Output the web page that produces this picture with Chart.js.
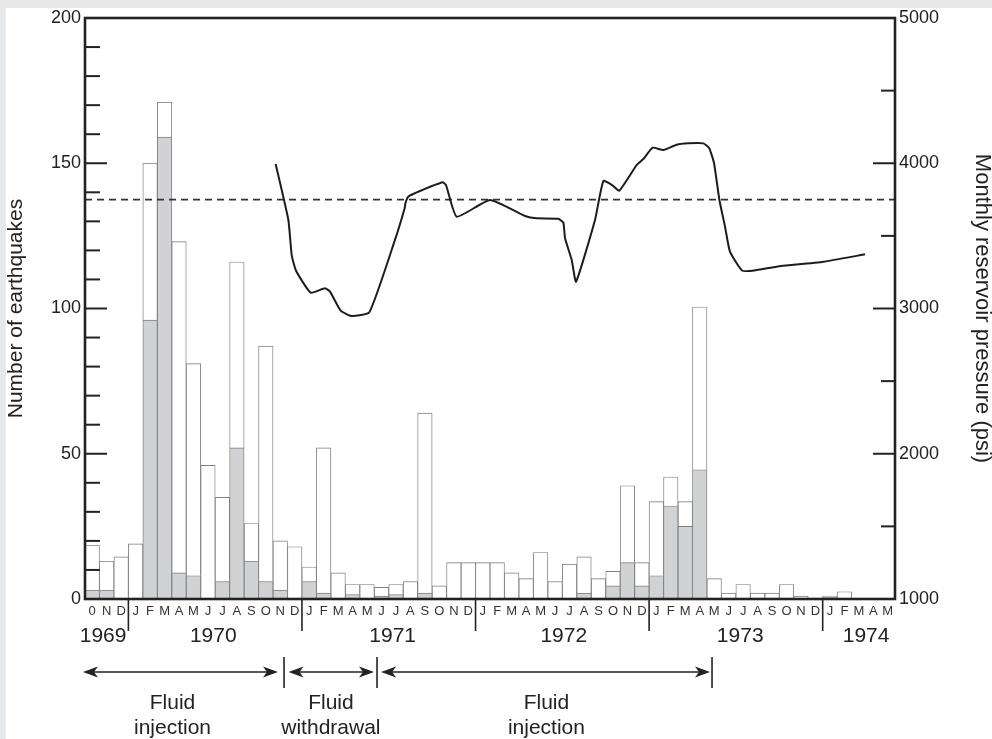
<!DOCTYPE html>
<html><head><meta charset="utf-8">
<script src="https://cdn.jsdelivr.net/npm/chart.js@4.4.1/dist/chart.umd.min.js"></script>
<style>html,body{margin:0;padding:0;background:#e7e8ea;}canvas{display:block;}</style>
</head><body>
<canvas id="c" width="992" height="739"></canvas>
<script>
// ---- data ----
const monthLabels = ['0','N','D',
  'J','F','M','A','M','J','J','A','S','O','N','D',
  'J','F','M','A','M','J','J','A','S','O','N','D',
  'J','F','M','A','M','J','J','A','S','O','N','D',
  'J','F','M','A','M','J','J','A','S','O','N','D',
  'J','F','M','A','M'];
const totalQuakes = [18.5,13,14.5,
  19,150,171,123,81,46,35,116,26,87,20,18,
  11,52,9,5,5,4,5,6,64,4.5,12.5,12.5,
  12.5,12.5,9,7,16,6,12,14.5,7,9.5,39,12.5,
  33.5,42,33.5,100.5,7,2,5,2,2,5,1,0.3,
  1,2.5,0,0,0];
const shadedQuakes = [3,3,0,
  0,96,159,9,8,0,6,52,13,6,3,0,
  6,2,0,1.5,0,1,1.5,0,2,0,0,0,
  0,0,0,0,0,0,0,2,0,4.5,12.5,4.5,
  8,32,25,44.5,0,0,0,0,0,0,0,0,
  0.5,0,0,0,0];
const yearLabels = ['1969','1970','1971','1972','1973','1974'];
const yearLabelMonth = [1.25,8.87,21.27,33.1,45.3,54.0];
const pressureMonth = [13.18,14.06,14.29,14.59,15.6,16.59,16.94,17.68,18.44,19.66,21.43,22.1,22.15,22.35,23.16,24.73,24.96,25.7,28.0,30.42,31.23,32.72,33.07,33.19,33.65,33.95,35.26,35.84,36.53,36.94,38.14,38.6,39.25,39.98,40.86,41.71,42.75,43.16,43.49,43.86,44.25,44.59,45.45,46.44,47.82,51.05,53.93];
const pressurePsi = [3995,3609,3368,3260,3109,3139,3116,2985,2948,2974,3472,3690,3725,3770,3809,3869,3850,3632,3747,3637,3621,3618,3591,3483,3334,3185,3609,3878,3843,3811,3988,4029,4107,4091,4126,4137,4137,4103,4000,3747,3563,3391,3260,3265,3288,3322,3373];
const thresholdPsi = 3750;
const phaseNames = [['Fluid','injection'],['Fluid','withdrawal'],['Fluid','injection']];
const phaseStart = [-0.14,14.07,20.47];
const phaseEnd = [13.34,19.98,43.21];
const phaseMark = [13.76,20.19,43.35];
const phaseTextMonth = [6.05,17.0,31.9];

// ---- chart ----
const FONT = '"Liberation Sans", Arial, Helvetica, sans-serif';
const whiteQuakes = totalQuakes.map((t,i)=>t - shadedQuakes[i]);
const nz = v => v > 0 ? v : null;

const bgPlugin = {
  id:'bg',
  beforeDraw(chart){
    const c = chart.ctx;
    c.save();
    c.fillStyle = '#e7e8ea'; c.fillRect(0,0,chart.width,chart.height);
    c.fillStyle = '#ffffff'; c.fillRect(6,8,chart.width-6,chart.height-8);
    c.restore();
  }
};

function arrowHead(c, x, y, dir){
  const L = 15, H = 5.5, N = 4;
  c.beginPath();
  c.moveTo(x, y);
  c.lineTo(x - dir*L, y - H);
  c.lineTo(x - dir*(L-N), y);
  c.lineTo(x - dir*L, y + H);
  c.closePath();
  c.fill();
}

const framePlugin = {
  id:'frame',
  afterDraw(chart){
    const c = chart.ctx, a = chart.chartArea;
    const ys = chart.scales.y, y2 = chart.scales.y2, xs = chart.scales.x2;
    c.save();
    c.strokeStyle = '#222'; c.fillStyle = '#222';
    c.lineWidth = 2;
    ys.ticks.forEach(t=>{
      if (t.value <= ys.min || t.value >= ys.max) return;
      const py = ys.getPixelForValue(t.value);
      const len = t.value % 50 === 0 ? 22 : 15;
      c.beginPath(); c.moveTo(a.left, py); c.lineTo(a.left+len, py); c.stroke();
    });
    y2.ticks.forEach(t=>{
      if (t.value <= y2.min || t.value >= y2.max) return;
      const py = y2.getPixelForValue(t.value);
      const len = t.value % 1000 === 0 ? 22 : 14;
      c.beginPath(); c.moveTo(a.right, py); c.lineTo(a.right-len, py); c.stroke();
    });
    c.lineWidth = 2.6;
    c.strokeRect(a.left, a.top, a.right-a.left, a.bottom-a.top);
    c.lineWidth = 1.6;
    monthLabels.forEach((l,i)=>{
      if (i>0 && l==='J' && monthLabels[i-1]==='D'){
        const px = xs.getPixelForValue(i);
        c.beginPath(); c.moveTo(px, a.bottom); c.lineTo(px, a.bottom+32); c.stroke();
      }
    });
    c.font = '21px ' + FONT;
    c.textAlign = 'center'; c.textBaseline = 'middle';
    yearLabels.forEach((t,i)=>{
      c.fillText(t, xs.getPixelForValue(yearLabelMonth[i]), a.bottom + 37);
    });
    const ay = a.bottom + 73;
    c.lineWidth = 1.6;
    phaseNames.forEach((nm,i)=>{
      const x1 = xs.getPixelForValue(phaseStart[i]);
      const x2 = xs.getPixelForValue(phaseEnd[i]);
      c.beginPath(); c.moveTo(x1+6, ay); c.lineTo(x2-6, ay); c.stroke();
      arrowHead(c, x1, ay, -1);
      arrowHead(c, x2, ay, 1);
      const mx = xs.getPixelForValue(phaseMark[i]);
      c.beginPath(); c.moveTo(mx, ay-15); c.lineTo(mx, ay+16); c.stroke();
      const tx = xs.getPixelForValue(phaseTextMonth[i]);
      c.fillText(nm[0], tx, a.bottom + 104);
      c.fillText(nm[1], tx, a.bottom + 129);
    });
    c.restore();
  }
};

new Chart(document.getElementById('c'), {
  type:'bar',
  data:{
    labels: monthLabels,
    datasets:[
      { type:'line', label:'Monthly reservoir pressure', order:0,
        data: pressureMonth.map((m,i)=>({x:m, y:pressurePsi[i]})),
        xAxisID:'x2', yAxisID:'y2', borderColor:'#1c1c1c', borderWidth:2,
        pointRadius:0, tension:0.15, fill:false },
      { type:'line', label:'Threshold', order:0,
        data:[{x:0,y:thresholdPsi},{x:56,y:thresholdPsi}],
        xAxisID:'x2', yAxisID:'y2', borderColor:'#333', borderWidth:1.8,
        borderDash:[7,5], pointRadius:0, fill:false },
      { label:'Shaded', order:1, stack:'q', grouped:false, data: shadedQuakes.map(nz),
        xAxisID:'x', yAxisID:'y',
        backgroundColor:'#d1d2d4', borderColor:'#7d7d7d', borderWidth:0.9,
        barPercentage:1, categoryPercentage:1 },
      { label:'Total', order:1, stack:'q', grouped:false, data: whiteQuakes.map(nz),
        xAxisID:'x', yAxisID:'y',
        backgroundColor:'#ffffff', borderColor:'#7d7d7d', borderWidth:0.9,
        barPercentage:1, categoryPercentage:1 }
    ]
  },
  options:{
    responsive:false, animation:false, devicePixelRatio:1,
    layout:{ padding:{ top:18, left:0, right:0, bottom:0 } },
    plugins:{ legend:{display:false}, tooltip:{enabled:false} },
    scales:{
      x:{ type:'category', position:'bottom', stacked:true, offset:true,
          grid:{display:false, drawTicks:false}, border:{display:false},
          ticks:{ autoSkip:false, maxRotation:0, minRotation:0, padding:5,
                  color:'#333', font:{family:FONT, size:13} },
          afterFit(s){ s.height = 140; } },
      x2:{ type:'linear', min:0, max:56, offset:false, display:false,
           grid:{offset:false} },
      y:{ position:'left', min:0, max:200, stacked:true,
          grid:{display:false, drawTicks:false}, border:{display:false},
          ticks:{ stepSize:10, maxTicksLimit:100, autoSkip:false, padding:4, color:'#222',
                  font:{family:FONT, size:18},
                  callback:v => v % 50 === 0 ? String(v) : '' },
          title:{ display:true, text:'Number of earthquakes', color:'#222',
                  font:{family:FONT, size:21}, padding:{top:3.4, bottom:0} },
          afterFit(s){ s.width = 85; } },
      y2:{ position:'right', min:1000, max:5000,
          grid:{display:false, drawTicks:false}, border:{display:false},
          ticks:{ stepSize:500, maxTicksLimit:100, autoSkip:false, padding:4, color:'#222',
                  font:{family:FONT, size:18},
                  callback:v => v % 1000 === 0 ? String(v) : '' },
          title:{ display:true, text:'Monthly reservoir pressure (psi)', color:'#222',
                  font:{family:FONT, size:22}, padding:{top:-3.7, bottom:0} },
          afterFit(s){ s.width = 97; } }
    }
  },
  plugins:[bgPlugin, framePlugin]
});
</script>
</body></html>
